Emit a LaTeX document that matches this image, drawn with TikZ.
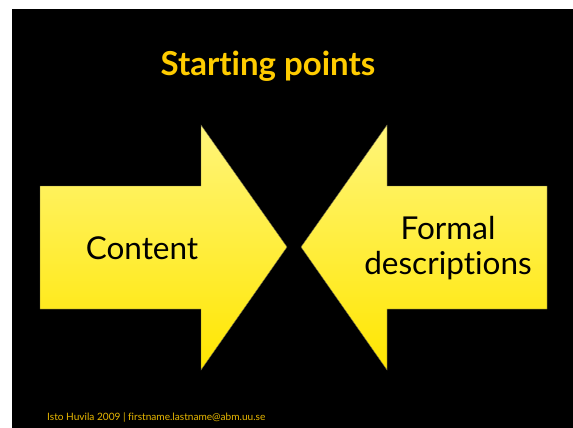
\documentclass[tikz,border=0pt]{standalone}
\usepackage{fontspec}
\setmainfont[Ligatures=NoCommon]{Lato}
\definecolor{titleyellow}{HTML}{FFCC00}
\definecolor{foot}{HTML}{E8B800}
\definecolor{arrtop}{HTML}{FFF57A}
\definecolor{arrbot}{HTML}{FFE600}
\begin{document}
\begin{tikzpicture}[x=1pt,y=-1pt,
  arrowshape/.style={top color=arrtop,bottom color=arrbot,draw=black!70!yellow,line width=0.4pt},
  bigtext/.style={font=\fontsize{31.5}{35}\selectfont,text=black,align=center,inner sep=0pt}]
\useasboundingbox (0,0) rectangle (573,428);
\fill[white] (0,0) rectangle (573,428);
\fill[black] (12,9) rectangle (573,428);
\node[font=\fontsize{33}{37}\selectfont\bfseries,text=titleyellow,anchor=base] (title) at (268,75) {Starting points};
\path[arrowshape] (40,186) -- (201,186) -- (201,125) -- (287,247) -- (201,370) -- (201,309) -- (40,309) -- cycle;
\path[arrowshape] (547,186) -- (387,186) -- (387,125) -- (301,247) -- (387,370) -- (387,309) -- (547,309) -- cycle;
\node[bigtext,anchor=base] (content) at (142,259) {Content};
\node[bigtext,anchor=base] (formal) at (448,239) {Formal};
\node[bigtext,anchor=base] (descr) at (448,274) {descriptions};
\node[font=\fontsize{10.1}{12}\selectfont,text=foot,anchor=base west,inner sep=0pt] (footer) at (47,420) {Isto Huvila 2009 | firstname.lastname@abm.uu.se};
\end{tikzpicture}
\end{document}
